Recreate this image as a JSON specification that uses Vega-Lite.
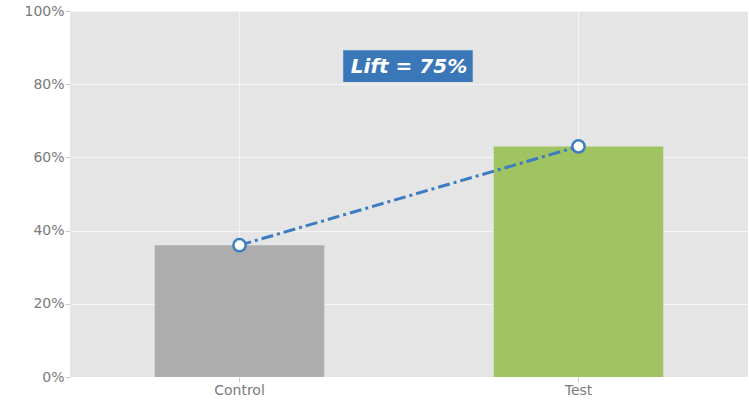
{
  "$schema": "https://vega.github.io/schema/vega-lite/v6.json",
  "width": 678,
  "height": 366,
  "autosize": {"type": "none"},
  "padding": {"left": 70, "top": 11, "right": 1, "bottom": 24},
  "background": "white",
  "view": {"fill": "#e5e5e5", "stroke": null},
  "config": {
    "font": "DejaVu Sans",
    "axis": {
      "domain": false,
      "grid": true,
      "gridColor": "white",
      "gridWidth": 1,
      "gridOpacity": 0.6,
      "tickColor": "#cccccc",
      "tickSize": 5,
      "labelColor": "#7a7a7a",
      "labelFont": "DejaVu Sans",
      "labelFontSize": 14,
      "labelPadding": 1,
      "title": null
    }
  },
  "datasets": {
    "groups": [
      {"group": "Control", "rate": 0.36},
      {"group": "Test", "rate": 0.63}
    ],
    "lift": [
      {"label": "Lift = 75%", "x": 0.5, "x0": 0.403, "x1": 0.594, "y": 0.85, "y0": 0.806, "y1": 0.893}
    ]
  },
  "layer": [
    {
      "data": {"name": "groups"},
      "encoding": {
        "x": {
          "field": "group",
          "type": "nominal",
          "sort": null,
          "scale": {"paddingInner": 0.5, "paddingOuter": 0.25},
          "axis": {"labelAngle": 0, "labelPadding": 1}
        },
        "y": {
          "field": "rate",
          "type": "quantitative",
          "scale": {"domain": [0, 1], "nice": false},
          "axis": {"format": ".0%", "values": [0, 0.2, 0.4, 0.6, 0.8, 1]}
        }
      },
      "layer": [
        {
          "mark": {"type": "bar"},
          "encoding": {
            "color": {
              "field": "group",
              "type": "nominal",
              "scale": {"domain": ["Control", "Test"], "range": ["#adadad", "#9fc461"]},
              "legend": null
            }
          }
        },
        {
          "mark": {"type": "line", "color": "#3b7dc0", "strokeWidth": 3, "strokeDash": [12, 4, 3, 4]}
        },
        {
          "mark": {"type": "point", "filled": true, "fill": "white", "stroke": "#3b7dc0", "strokeWidth": 2.5, "size": 150, "opacity": 1}
        }
      ]
    },
    {
      "data": {"name": "lift"},
      "layer": [
        {
          "mark": {"type": "rect", "color": "#3a77b8"},
          "encoding": {
            "x": {"field": "x0", "type": "quantitative", "scale": {"domain": [0, 1], "nice": false}, "axis": null},
            "x2": {"field": "x1"},
            "y": {"field": "y0", "type": "quantitative"},
            "y2": {"field": "y1"}
          }
        },
        {
          "mark": {"type": "text", "color": "white", "font": "DejaVu Sans", "fontSize": 20, "fontWeight": "bold", "fontStyle": "italic", "align": "center", "baseline": "middle", "dy": 1},
          "encoding": {
            "x": {"field": "x", "type": "quantitative", "scale": {"domain": [0, 1], "nice": false}, "axis": null},
            "y": {"field": "y", "type": "quantitative"},
            "text": {"field": "label"}
          }
        }
      ]
    }
  ],
  "resolve": {"scale": {"x": "independent"}, "axis": {"x": "independent"}}
}
